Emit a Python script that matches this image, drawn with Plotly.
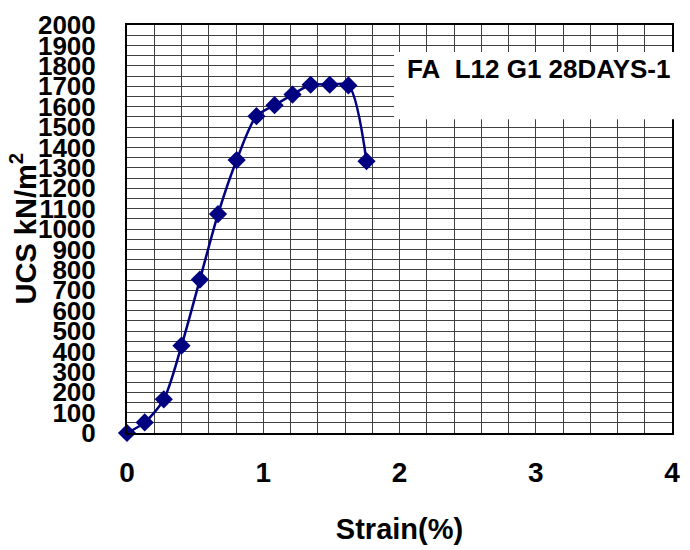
import plotly.graph_objects as go

strain = [0.0, 0.13, 0.27, 0.40, 0.535, 0.668, 0.805, 0.95, 1.083, 1.215, 1.348, 1.488, 1.625, 1.758]
ucs = [0, 52, 165, 428, 752, 1073, 1338, 1553, 1607, 1659, 1707, 1707, 1704, 1332]
label = "FA\u00a0 L12 G1 28DAYS-1"

FONT = "Liberation Sans, Arial, sans-serif"

fig = go.Figure()
fig.add_trace(go.Scatter(
    x=strain, y=ucs, mode="lines+markers",
    line=dict(color="#000080", width=2.5, shape="spline", smoothing=0.8),
    marker=dict(symbol="diamond", size=14, color="#000080"),
    showlegend=False, cliponaxis=False,
))

fig.update_layout(
    width=690, height=550,
    margin=dict(l=127, r=10, t=23, b=115),
    paper_bgcolor="white", plot_bgcolor="white",
    font=dict(family=FONT, color="black"),
    xaxis=dict(
        range=[0, 4], tickvals=[0, 1, 2, 3, 4],
        showgrid=True,
        minor=dict(dtick=0.2, showgrid=True, gridcolor="#404040", gridwidth=1),
        gridcolor="#404040", gridwidth=1,
        showline=True, mirror=True, linecolor="black", linewidth=2,
        zeroline=False, ticks="",
        tickfont=dict(size=28, family=FONT, weight="bold"),
        ticklabelstandoff=13,
        title=dict(text="<b>Strain(%)</b>", font=dict(size=29, family=FONT), standoff=32),
    ),
    yaxis=dict(
        range=[0, 2000], dtick=100,
        showgrid=True,
        minor=dict(dtick=50, showgrid=True, gridcolor="#404040", gridwidth=1),
        gridcolor="#404040", gridwidth=1,
        showline=True, mirror=True, linecolor="black", linewidth=2,
        zeroline=False, ticks="",
        tickfont=dict(size=26, family=FONT, weight="bold"),
        ticklabelstandoff=24,
    ),
    shapes=[dict(
        type="rect", xref="paper", yref="paper",
        x0=0.49, x1=1.01, y0=0.769, y1=0.934,
        fillcolor="white", line=dict(width=0), layer="above",
    )],
    annotations=[
        dict(
            text="<b>" + label + "</b>", xref="paper", yref="paper",
            x=0.51, y=0.891, xanchor="left", yanchor="middle", showarrow=False,
            font=dict(size=26, family=FONT, color="black"),
        ),
        dict(
            text="<b>UCS kN/m<sup>2</sup></b>", xref="paper", yref="paper",
            x=-0.19, y=0.5, xanchor="center", yanchor="middle", showarrow=False,
            textangle=-90, font=dict(size=29, family=FONT, color="black"),
        ),
    ],
)

fig.write_html("out.html")
